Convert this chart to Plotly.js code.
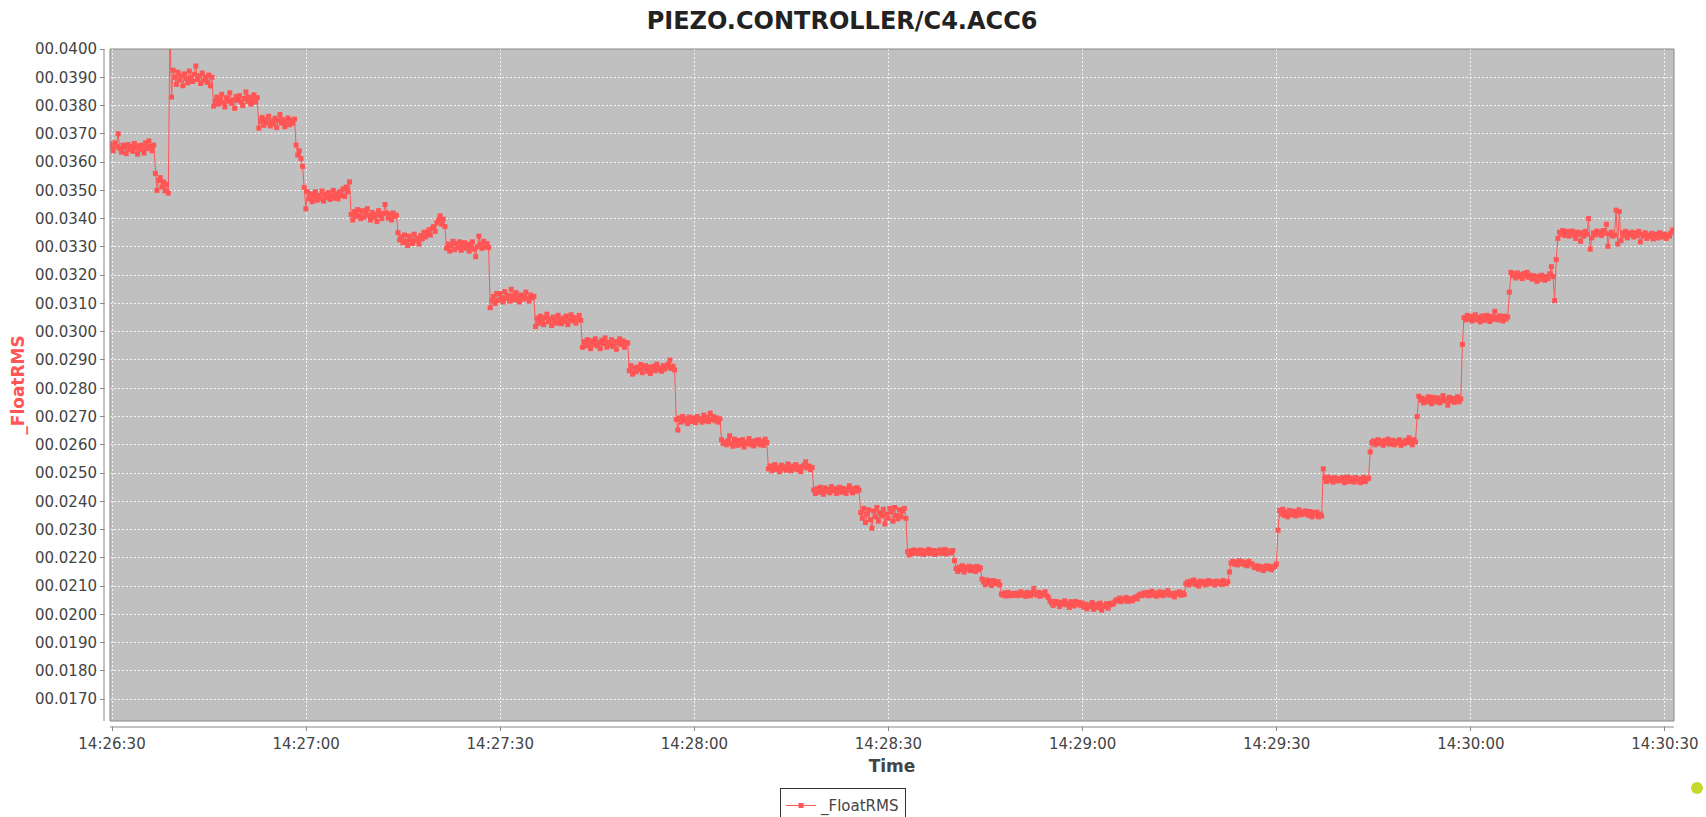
<!DOCTYPE html>
<html>
<head>
<meta charset="utf-8">
<script src="https://cdn.plot.ly/plotly-3.0.1.min.js"></script>
<style>
  html, body { margin: 0; padding: 0; background: #ffffff; }
  #chart { width: 1706px; height: 817px; }
</style>
</head>
<body>
<div id="chart"></div>
<script>
// ---- data ----
const chartTitle = "PIEZO.CONTROLLER/C4.ACC6";
const seriesName = "_FloatRMS";
const xAxisTitle = "Time";
const yAxisTitle = "_FloatRMS";
// first sample time and sampling interval
const startTime = "2016-01-01 14:26:29.700";
const sampleMs = 250;
const xRange = ["2016-01-01 14:26:29.690", "2016-01-01 14:30:31.400"];
const yRange = [0.01623, 0.0400];
const xTick0 = "2016-01-01 14:26:30";

const floatRMS = [
  0.03665,0.03650,0.03640,0.03668,0.03655,0.03700,0.03648,0.03635,0.03660,0.03652,0.03630,0.03662,0.03645,0.03655,0.03638,0.03666,0.03650,0.03628,0.03658,0.03644,
  0.03660,0.03632,0.03668,0.03648,0.03675,0.03655,0.03640,0.03660,0.03560,0.03500,0.03535,0.03545,0.03512,0.03530,0.03498,0.03522,0.03490,0.04080,0.03830,0.03925,
  0.03900,0.03875,0.03918,0.03890,0.03905,0.03870,0.03912,0.03895,0.03880,0.03922,0.03898,0.03885,0.03910,0.03940,0.03892,0.03905,0.03878,0.03915,0.03888,0.03900,
  0.03882,0.03908,0.03870,0.03900,0.03798,0.03815,0.03830,0.03805,0.03822,0.03840,0.03810,0.03795,0.03828,0.03815,0.03845,0.03808,0.03820,0.03790,0.03832,0.03818,
  0.03835,0.03812,0.03800,0.03825,0.03848,0.03815,0.03830,0.03805,0.03822,0.03838,0.03812,0.03828,0.03720,0.03745,0.03758,0.03730,0.03750,0.03738,0.03762,0.03728,
  0.03745,0.03735,0.03755,0.03722,0.03748,0.03768,0.03738,0.03750,0.03725,0.03742,0.03756,0.03732,0.03748,0.03738,0.03752,0.03660,0.03625,0.03640,0.03612,0.03585,
  0.03510,0.03435,0.03495,0.03470,0.03488,0.03460,0.03478,0.03495,0.03465,0.03482,0.03470,0.03498,0.03462,0.03485,0.03475,0.03492,0.03468,0.03480,0.03500,0.03472,
  0.03488,0.03470,0.03495,0.03482,0.03505,0.03478,0.03512,0.03495,0.03530,0.03415,0.03395,0.03425,0.03408,0.03432,0.03412,0.03400,0.03428,0.03405,0.03418,0.03435,
  0.03410,0.03395,0.03422,0.03405,0.03415,0.03390,0.03428,0.03412,0.03400,0.03418,0.03450,0.03420,0.03402,0.03415,0.03395,0.03420,0.03408,0.03412,0.03350,0.03325,
  0.03335,0.03315,0.03342,0.03320,0.03305,0.03338,0.03325,0.03312,0.03345,0.03322,0.03330,0.03310,0.03340,0.03328,0.03352,0.03335,0.03348,0.03360,0.03342,0.03365,
  0.03372,0.03355,0.03385,0.03395,0.03410,0.03380,0.03398,0.03372,0.03295,0.03310,0.03285,0.03305,0.03320,0.03290,0.03312,0.03298,0.03318,0.03288,0.03305,0.03315,
  0.03295,0.03310,0.03285,0.03302,0.03318,0.03292,0.03265,0.03300,0.03338,0.03310,0.03295,0.03320,0.03300,0.03312,0.03298,0.03085,0.03110,0.03125,0.03100,0.03135,
  0.03110,0.03135,0.03120,0.03105,0.03142,0.03118,0.03128,0.03108,0.03150,0.03125,0.03112,0.03138,0.03120,0.03105,0.03130,0.03115,0.03125,0.03140,0.03118,0.03108,
  0.03130,0.03120,0.03125,0.03018,0.03048,0.03030,0.03055,0.03038,0.03025,0.03050,0.03062,0.03035,0.03045,0.03022,0.03052,0.03040,0.03030,0.03058,0.03042,0.03028,
  0.03048,0.03035,0.03055,0.03025,0.03042,0.03060,0.03038,0.03050,0.03030,0.03045,0.03058,0.03040,0.02945,0.02965,0.02950,0.02972,0.02958,0.02940,0.02968,0.02955,
  0.02975,0.02950,0.02962,0.02940,0.02970,0.02958,0.02978,0.02945,0.02962,0.02952,0.02972,0.02948,0.02965,0.02938,0.02960,0.02975,0.02955,0.02968,0.02945,0.02962,
  0.02960,0.02862,0.02880,0.02850,0.02872,0.02858,0.02875,0.02865,0.02884,0.02855,0.02870,0.02880,0.02860,0.02875,0.02852,0.02868,0.02878,0.02862,0.02885,0.02866,
  0.02872,0.02860,0.02880,0.02868,0.02875,0.02885,0.02900,0.02870,0.02878,0.02865,0.02690,0.02652,0.02695,0.02680,0.02700,0.02685,0.02692,0.02675,0.02698,0.02688,
  0.02682,0.02695,0.02678,0.02700,0.02688,0.02692,0.02680,0.02705,0.02686,0.02698,0.02682,0.02712,0.02690,0.02700,0.02685,0.02695,0.02680,0.02692,0.02618,0.02605,
  0.02610,0.02600,0.02615,0.02632,0.02605,0.02595,0.02620,0.02608,0.02598,0.02615,0.02602,0.02618,0.02592,0.02610,0.02605,0.02622,0.02600,0.02612,0.02596,0.02615,
  0.02605,0.02618,0.02600,0.02612,0.02598,0.02620,0.02608,0.02515,0.02525,0.02508,0.02522,0.02530,0.02512,0.02520,0.02505,0.02528,0.02515,0.02522,0.02510,0.02532,
  0.02518,0.02508,0.02525,0.02515,0.02530,0.02512,0.02522,0.02505,0.02520,0.02528,0.02540,0.02518,0.02525,0.02512,0.02520,0.02440,0.02428,0.02445,0.02432,0.02450,
  0.02438,0.02425,0.02448,0.02435,0.02442,0.02430,0.02452,0.02438,0.02445,0.02428,0.02440,0.02450,0.02432,0.02446,0.02436,0.02428,0.02444,0.02455,0.02438,0.02430,
  0.02446,0.02435,0.02448,0.02440,0.02360,0.02340,0.02375,0.02325,0.02355,0.02370,0.02335,0.02305,0.02365,0.02345,0.02378,0.02330,0.02360,0.02348,0.02372,0.02320,
  0.02355,0.02340,0.02375,0.02362,0.02330,0.02378,0.02350,0.02338,0.02370,0.02345,0.02365,0.02375,0.02340,0.02222,0.02210,0.02225,0.02215,0.02228,0.02218,0.02225,
  0.02215,0.02228,0.02220,0.02212,0.02225,0.02218,0.02230,0.02215,0.02222,0.02226,0.02212,0.02224,0.02218,0.02228,0.02216,0.02222,0.02230,0.02214,0.02225,0.02220,
  0.02218,0.02226,0.02190,0.02162,0.02152,0.02168,0.02158,0.02172,0.02150,0.02165,0.02160,0.02170,0.02155,0.02168,0.02162,0.02152,0.02170,0.02158,0.02165,0.02125,
  0.02115,0.02105,0.02122,0.02110,0.02118,0.02102,0.02120,0.02112,0.02108,0.02116,0.02104,0.02072,0.02068,0.02076,0.02065,0.02078,0.02070,0.02066,0.02074,0.02068,
  0.02075,0.02066,0.02072,0.02080,0.02068,0.02074,0.02064,0.02078,0.02070,0.02066,0.02076,0.02092,0.02072,0.02068,0.02078,0.02064,0.02074,0.02070,0.02080,0.02066,
  0.02060,0.02048,0.02040,0.02032,0.02046,0.02038,0.02044,0.02028,0.02042,0.02036,0.02048,0.02034,0.02040,0.02025,0.02045,0.02038,0.02030,0.02046,0.02036,0.02042,
  0.02032,0.02040,0.02025,0.02036,0.02020,0.02034,0.02028,0.02042,0.02018,0.02030,0.02036,0.02024,0.02040,0.02015,0.02032,0.02028,0.02038,0.02022,0.02034,0.02040,
  0.02036,0.02044,0.02052,0.02048,0.02058,0.02045,0.02054,0.02050,0.02060,0.02046,0.02056,0.02052,0.02048,0.02058,0.02062,0.02055,0.02068,0.02072,0.02066,0.02076,
  0.02070,0.02078,0.02066,0.02074,0.02082,0.02068,0.02076,0.02064,0.02072,0.02080,0.02070,0.02066,0.02078,0.02072,0.02084,0.02068,0.02074,0.02070,0.02062,0.02076,
  0.02072,0.02080,0.02068,0.02076,0.02070,0.02108,0.02115,0.02104,0.02118,0.02110,0.02122,0.02106,0.02114,0.02100,0.02118,0.02110,0.02116,0.02104,0.02112,0.02120,
  0.02108,0.02116,0.02112,0.02104,0.02118,0.02110,0.02114,0.02106,0.02120,0.02112,0.02108,0.02116,0.02150,0.02182,0.02188,0.02178,0.02185,0.02175,0.02190,0.02180,
  0.02186,0.02176,0.02184,0.02172,0.02188,0.02180,0.02178,0.02168,0.02165,0.02172,0.02160,0.02170,0.02164,0.02155,0.02168,0.02172,0.02162,0.02170,0.02158,0.02166,
  0.02170,0.02178,0.02298,0.02368,0.02355,0.02372,0.02350,0.02362,0.02345,0.02368,0.02358,0.02352,0.02365,0.02348,0.02360,0.02370,0.02352,0.02362,0.02355,0.02366,
  0.02358,0.02350,0.02364,0.02345,0.02360,0.02352,0.02362,0.02345,0.02355,0.02348,0.02515,0.02482,0.02470,0.02486,0.02475,0.02480,0.02468,0.02484,0.02476,0.02472,
  0.02480,0.02474,0.02484,0.02466,0.02478,0.02486,0.02470,0.02482,0.02476,0.02468,0.02484,0.02472,0.02480,0.02466,0.02478,0.02485,0.02470,0.02478,0.02482,0.02575,
  0.02608,0.02614,0.02600,0.02610,0.02618,0.02604,0.02612,0.02598,0.02615,0.02606,0.02620,0.02602,0.02610,0.02616,0.02600,0.02612,0.02606,0.02618,0.02598,0.02610,
  0.02604,0.02616,0.02608,0.02625,0.02612,0.02600,0.02618,0.02610,0.02700,0.02772,0.02758,0.02765,0.02748,0.02762,0.02752,0.02770,0.02756,0.02745,0.02768,0.02760,
  0.02752,0.02766,0.02748,0.02760,0.02774,0.02755,0.02762,0.02740,0.02768,0.02756,0.02764,0.02750,0.02760,0.02770,0.02752,0.02762,0.02955,0.03050,0.03042,0.03058,
  0.03045,0.03055,0.03038,0.03052,0.03060,0.03042,0.03050,0.03035,0.03056,0.03046,0.03040,0.03058,0.03048,0.03036,0.03054,0.03044,0.03072,0.03050,0.03042,0.03056,
  0.03048,0.03038,0.03055,0.03045,0.03052,0.03140,0.03210,0.03198,0.03205,0.03190,0.03208,0.03195,0.03202,0.03188,0.03206,0.03196,0.03210,0.03192,0.03200,0.03186,
  0.03198,0.03190,0.03178,0.03196,0.03185,0.03200,0.03192,0.03182,0.03195,0.03188,0.03205,0.03230,0.03195,0.03110,0.03255,0.03330,0.03352,0.03345,0.03358,0.03340,
  0.03350,0.03355,0.03338,0.03348,0.03356,0.03342,0.03330,0.03352,0.03345,0.03320,0.03350,0.03338,0.03355,0.03345,0.03400,0.03292,0.03332,0.03350,0.03342,0.03356,
  0.03345,0.03352,0.03340,0.03358,0.03348,0.03380,0.03302,0.03345,0.03352,0.03338,0.03342,0.03430,0.03310,0.03425,0.03322,0.03350,0.03340,0.03355,0.03332,0.03348,
  0.03342,0.03352,0.03335,0.03348,0.03340,0.03355,0.03318,0.03345,0.03338,0.03350,0.03330,0.03342,0.03336,0.03348,0.03328,0.03340,0.03345,0.03332,0.03350,0.03338,
  0.03335,0.03345,0.03330,0.03342,0.03338,0.03350,0.03360
];

// ---- build sample timestamps ----
function pad(n, w) { return String(n).padStart(w, "0"); }
const startMs = Date.parse(startTime.replace(" ", "T") + "Z");
const times = floatRMS.map((_, i) => {
  const d = new Date(startMs + i * sampleMs);
  return d.getUTCFullYear() + "-" + pad(d.getUTCMonth() + 1, 2) + "-" + pad(d.getUTCDate(), 2) + " " +
    pad(d.getUTCHours(), 2) + ":" + pad(d.getUTCMinutes(), 2) + ":" + pad(d.getUTCSeconds(), 2) + "." +
    pad(d.getUTCMilliseconds(), 3);
});

const RED = "#ff5555";
const FONT = "DejaVu Sans";
const GAP = 6;

const trace = {
  type: "scatter",
  mode: "lines+markers",
  name: seriesName,
  x: times,
  y: floatRMS,
  line: { color: RED, width: 1 },
  marker: { color: RED, size: 5, symbol: "square" },
  cliponaxis: true
};

const layout = {
  width: 1706,
  height: 817,
  margin: { l: 110, r: 32, t: 49, b: 96, pad: 0, autoexpand: false },
  paper_bgcolor: "#ffffff",
  plot_bgcolor: "#c0c0c0",
  font: { family: FONT, size: 15, color: "#444444" },
  title: {
    text: chartTitle,
    font: { family: FONT, size: 24, color: "#222222", weight: "bold" },
    x: 0.4936, xanchor: "center", xref: "container",
    y: 0.975, yanchor: "middle", yref: "container"
  },
  xaxis: {
    type: "date",
    range: xRange,
    tick0: xTick0,
    dtick: 30000,
    tickformat: "%H:%M:%S",
    showgrid: true,
    gridcolor: "rgba(255,255,255,0.85)",
    griddash: "2px,2px",
    gridwidth: 1,
    zeroline: false,
    showline: false,
    ticks: "outside",
    ticklen: GAP + 3,
    tickcolor: "#888888",
    tickfont: { family: FONT, size: 15, color: "#444444" },
    title: { text: xAxisTitle, font: { family: FONT, size: 17, color: "#444444", weight: "bold" }, standoff: 8 },
    automargin: false,
    fixedrange: true
  },
  yaxis: {
    range: yRange,
    tick0: 0,
    dtick: 0.001,
    tickformat: ".4f",
    tickprefix: "0",
    showgrid: true,
    gridcolor: "rgba(255,255,255,0.85)",
    griddash: "2px,2px",
    gridwidth: 1,
    zeroline: false,
    showline: false,
    ticks: "outside",
    ticklen: GAP + 3,
    tickcolor: "#888888",
    tickfont: { family: FONT, size: 15, color: "#444444" },
    title: { text: yAxisTitle, font: { family: FONT, size: 17, color: RED, weight: "bold" }, standoff: 6 },
    automargin: false,
    fixedrange: true
  },
  showlegend: true,
  legend: {
    orientation: "h",
    x: 0.4687, xanchor: "center",
    y: -0.1, yanchor: "top",
    bordercolor: "#333333",
    borderwidth: 1,
    bgcolor: "#ffffff",
    font: { family: FONT, size: 15, color: "#444444" },
    itemwidth: 30
  },
  shapes: [
    // white cover of tick segments inside the axis gap
    { type: "rect", xref: "paper", yref: "paper", xsizemode: "pixel", xanchor: 0,
      x0: -GAP + 0.5, x1: -0.5, y0: 0, y1: 1, fillcolor: "#ffffff", line: { width: 0 }, layer: "above" },
    { type: "rect", xref: "paper", yref: "paper", ysizemode: "pixel", yanchor: 0,
      x0: 0, x1: 1, y0: -GAP + 0.5, y1: -0.5, fillcolor: "#ffffff", line: { width: 0 }, layer: "above" },
    // offset axis lines
    { type: "line", xref: "paper", yref: "paper", xsizemode: "pixel", xanchor: 0,
      x0: -GAP, x1: -GAP, y0: 0, y1: 1, line: { color: "#888888", width: 1 }, layer: "above" },
    { type: "line", xref: "paper", yref: "paper", ysizemode: "pixel", yanchor: 0,
      x0: 0, x1: 1, y0: -GAP, y1: -GAP, line: { color: "#888888", width: 1 }, layer: "above" },
    // plot outline
    { type: "rect", xref: "paper", yref: "paper", x0: 0, x1: 1, y0: 0, y1: 1,
      line: { color: "#888888", width: 1 }, fillcolor: "rgba(0,0,0,0)", layer: "above" },
    // small yellow-green dot at the right edge of the window
    { type: "circle", xref: "paper", yref: "paper", xsizemode: "pixel", ysizemode: "pixel",
      xanchor: 1, yanchor: 0, x0: 17, x1: 29, y0: -61, y1: -73,
      fillcolor: "#c5d92b", line: { width: 0 }, layer: "above" }
  ]
};

Plotly.newPlot("chart", [trace], layout, { displayModeBar: false, staticPlot: true });
</script>
</body>
</html>
